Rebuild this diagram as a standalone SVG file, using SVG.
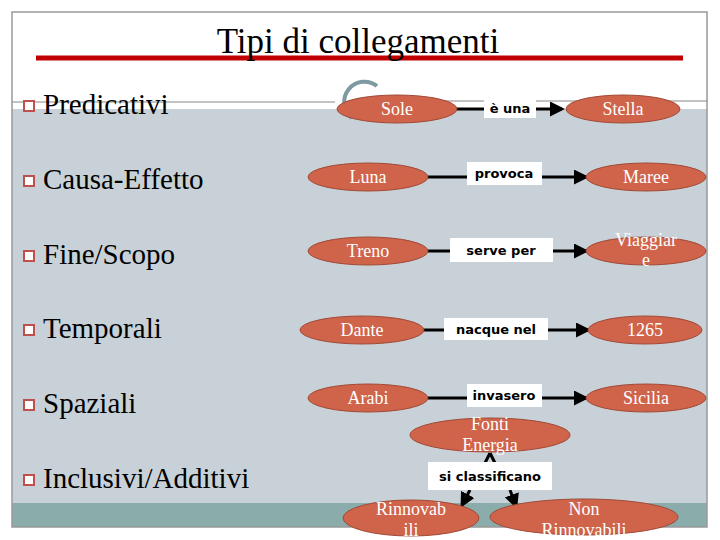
<svg xmlns="http://www.w3.org/2000/svg" width="720" height="540" viewBox="0 0 720 540">
<style>
.lbl{font-family:"Liberation Serif",serif;font-size:29px;fill:#000}
.n ellipse{fill:#d0644a;stroke:#a04a38;stroke-width:1}
.n text{font-family:"Liberation Serif",serif;font-size:18px;fill:#fff;text-anchor:middle}
.b{fill:#fff}
.t{font-family:"DejaVu Sans",sans-serif;font-size:13px;font-weight:bold;fill:#000;text-anchor:middle}
.c line{stroke:#000;stroke-width:3}
.sq{fill:#fff;stroke:#c0504d;stroke-width:2}
</style>
<defs><marker id="a" markerWidth="5" markerHeight="5" refX="4" refY="2.5" orient="auto"><path d="M0,0L5,2.5L0,5z" fill="#000"/></marker></defs>
<rect width="720" height="540" fill="#fff"/>
<rect x="12" y="109" width="695" height="394" fill="#c8d1d7"/>
<rect x="12" y="503" width="695" height="24" fill="#8aacab"/>
<rect x="12" y="12" width="695" height="515" fill="none" stroke="#999" stroke-width="1.5"/>
<line x1="12" y1="102" x2="335" y2="102" stroke="#888" stroke-width="1"/>
<line x1="400" y1="101" x2="707" y2="101" stroke="#888" stroke-width="1"/>
<line x1="36" y1="58" x2="683" y2="58" stroke="#c00000" stroke-width="5"/>
<text x="358" y="53" font-family="Liberation Serif,serif" font-size="35" text-anchor="middle">Tipi di collegamenti</text>
<path d="M352,118 A19,19 0 1 1 377,86" fill="none" stroke="#7c9aa0" stroke-width="4"/>
<g id="labels">
<rect class="sq" x="24" y="101" width="10" height="10"/><text class="lbl" x="43" y="114">Predicativi</text>
<rect class="sq" x="24" y="176" width="10" height="10"/><text class="lbl" x="43" y="189">Causa-Effetto</text>
<rect class="sq" x="24" y="251" width="10" height="10"/><text class="lbl" x="43" y="264">Fine/Scopo</text>
<rect class="sq" x="24" y="325" width="10" height="10"/><text class="lbl" x="43" y="338">Temporali</text>
<rect class="sq" x="24" y="400" width="10" height="10"/><text class="lbl" x="43" y="413">Spaziali</text>
<rect class="sq" x="24" y="475" width="10" height="10"/><text class="lbl" x="43" y="488">Inclusivi/Additivi</text>
</g>
<g id="connectors" class="c">
<line x1="455" y1="109" x2="562" y2="109" marker-end="url(#a)"/>
<line x1="428" y1="177" x2="586" y2="177" marker-end="url(#a)"/>
<line x1="428" y1="251" x2="586" y2="251" marker-end="url(#a)"/>
<line x1="423" y1="330" x2="588" y2="330" marker-end="url(#a)"/>
<line x1="428" y1="398" x2="586" y2="398" marker-end="url(#a)"/>
<line x1="484" y1="465" x2="490" y2="453" stroke-width="2.5"/><line x1="496" y1="465" x2="490" y2="453" stroke-width="2.5"/>
<line x1="470" y1="490" x2="462" y2="505" marker-end="url(#a)"/>
<line x1="510" y1="490" x2="516" y2="506" marker-end="url(#a)"/>
</g>
<g id="linklabels">
<rect class="b" x="484" y="98" width="52" height="20"/><text class="t" x="510" y="113">è una</text>
<rect class="b" x="467" y="162" width="75" height="23"/><text class="t" x="504" y="178">provoca</text>
<rect class="b" x="450" y="238" width="103" height="24"/><text class="t" x="501" y="255">serve per</text>
<rect class="b" x="444" y="318" width="104" height="22"/><text class="t" x="496" y="334">nacque nel</text>
<rect class="b" x="467" y="384" width="75" height="23"/><text class="t" x="504" y="400">invasero</text>
<rect class="b" x="428" y="462" width="124" height="28"/><text class="t" x="490" y="481">si classificano</text>
</g>
<g id="sole" class="n"><ellipse cx="397" cy="109" rx="60" ry="14"/><text x="397" y="115">Sole</text></g>
<g id="stella" class="n"><ellipse cx="623" cy="109" rx="57" ry="14"/><text x="623" y="115">Stella</text></g>
<g id="luna" class="n"><ellipse cx="368" cy="177" rx="60" ry="14"/><text x="368" y="183">Luna</text></g>
<g id="maree" class="n"><ellipse cx="646" cy="177" rx="60" ry="14"/><text x="646" y="183">Maree</text></g>
<g id="treno" class="n"><ellipse cx="368" cy="251" rx="60" ry="14"/><text x="368" y="257">Treno</text></g>
<g id="viaggiare" class="n"><ellipse cx="646" cy="251" rx="60" ry="14"/><text x="646" y="246">Viaggiar</text><text x="646" y="266">e</text></g>
<g id="dante" class="n"><ellipse cx="362" cy="330" rx="62" ry="14"/><text x="362" y="336">Dante</text></g>
<g id="y1265" class="n"><ellipse cx="645" cy="330" rx="57" ry="14"/><text x="645" y="336">1265</text></g>
<g id="arabi" class="n"><ellipse cx="368" cy="398" rx="60" ry="14"/><text x="368" y="404">Arabi</text></g>
<g id="sicilia" class="n"><ellipse cx="646" cy="398" rx="60" ry="14"/><text x="646" y="404">Sicilia</text></g>
<g id="fonti" class="n"><ellipse cx="490" cy="435" rx="80" ry="17"/><text x="490" y="430">Fonti</text><text x="490" y="451">Energia</text></g>
<g id="rinnovabili" class="n"><ellipse cx="411" cy="518" rx="68" ry="18"/><text x="411" y="515">Rinnovab</text><text x="411" y="536">ili</text></g>
<g id="nonrinnovabili" class="n"><ellipse cx="584" cy="517" rx="94" ry="18"/><text x="584" y="515">Non</text><text x="584" y="536">Rinnovabili</text></g>
</svg>
